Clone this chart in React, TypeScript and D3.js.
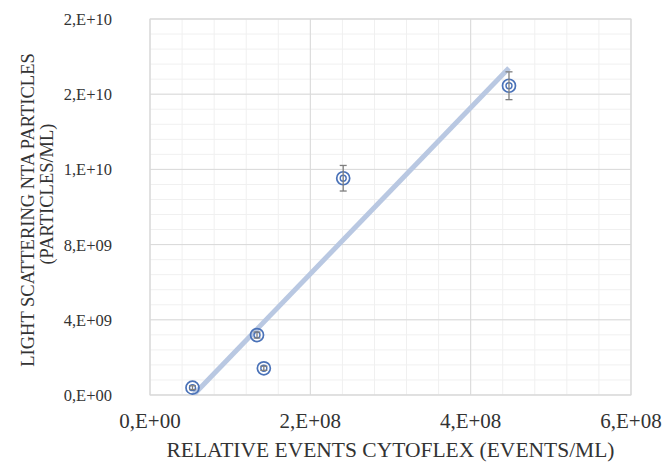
import React from "react";
import * as d3 from "d3";

// relative events (events/mL) vs. NTA particles (particles/mL)
const xValues = [5.3e7, 1.335e8, 1.42e8, 2.41e8, 4.478e8];
const yValues = [3.9e8, 3.19e9, 1.42e9, 1.153e10, 1.645e10];
const yErrors = [1.0e8, 1.6e8, 1.1e8, 6.8e8, 7.4e8];

const xTicks = [0, 2e8, 4e8, 6e8];
const xTickLabels = ["0,E+00", "2,E+08", "4,E+08", "6,E+08"];
const yTicks = [0, 4e9, 8e9, 1.2e10, 1.6e10, 2e10];
const yTickLabels = ["0,E+00", "4,E+09", "8,E+09", "1,E+10", "2,E+10", "2,E+10"];

const W = 665, H = 465;
const margin = { top: 19, right: 34, bottom: 70, left: 150 };
const FONT = "'Liberation Serif', 'Times New Roman', serif";

const App = () => {
  const x = d3.scaleLinear().domain([0, 6e8]).range([margin.left, W - margin.right]);
  const y = d3.scaleLinear().domain([0, 2e10]).range([H - margin.bottom, margin.top]);

  const xMinor = d3.range(0, 6e8 + 1, 4e7);
  const yMinor = d3.range(0, 2e10 + 1, 8e8);

  // least squares trendline
  const mx = d3.mean(xValues)!, my = d3.mean(yValues)!;
  const sxy = d3.sum(xValues, (v, i) => (v - mx) * (yValues[i] - my));
  const sxx = d3.sum(xValues, v => (v - mx) ** 2);
  const slope = sxy / sxx, icpt = my - slope * mx;
  const x0 = d3.min(xValues)!, x1 = d3.max(xValues)!;
  const trend = d3.line<number>().x(v => x(v)).y(v => y(slope * v + icpt))([x0, x1]);

  const [l, r] = x.range();
  const [b, t] = y.range();

  return (
    <svg width={W} height={H} style={{ position: "absolute", left: 0, top: 0, background: "#fff" }}>
      <defs>
        <clipPath id="plotClip">
          <rect x={l} y={t} width={r - l} height={b - t} />
        </clipPath>
      </defs>
      <g stroke="#f0f0f0" strokeWidth={1}>
        {xMinor.map(v => <line key={"xm" + v} x1={x(v)} x2={x(v)} y1={t} y2={b} />)}
        {yMinor.map(v => <line key={"ym" + v} x1={l} x2={r} y1={y(v)} y2={y(v)} />)}
      </g>
      <g stroke="#d9d9d9" strokeWidth={1}>
        {xTicks.map(v => <line key={"xM" + v} x1={x(v)} x2={x(v)} y1={t} y2={b} />)}
        {yTicks.map(v => <line key={"yM" + v} x1={l} x2={r} y1={y(v)} y2={y(v)} />)}
      </g>
      <rect x={l} y={t} width={r - l} height={b - t} fill="none" stroke="#d9d9d9" />

      <path d={trend!} fill="none" stroke="#b9c8e2" strokeWidth={5} clipPath="url(#plotClip)" />

      {xValues.map((xv, i) => {
        const cx = x(xv), cy = y(yValues[i]);
        const ey1 = y(yValues[i] + yErrors[i]), ey0 = y(yValues[i] - yErrors[i]);
        return (
          <g key={i}>
            <circle cx={cx} cy={cy} r={6.5} fill="none" stroke="#4a72b8" strokeWidth={1.7} />
            <circle cx={cx} cy={cy} r={3} fill="none" stroke="#4a72b8" strokeWidth={1.4} />
            <g stroke="#7f7f7f" strokeWidth={1.3}>
              <line x1={cx} x2={cx} y1={ey1} y2={ey0} />
              <line x1={cx - 3.5} x2={cx + 3.5} y1={ey1} y2={ey1} />
              <line x1={cx - 3.5} x2={cx + 3.5} y1={ey0} y2={ey0} />
            </g>
          </g>
        );
      })}

      <g fontFamily={FONT} fill="#333">
        {xTicks.map((v, i) => (
          <text key={"xt" + v} x={x(v)} y={b + 33} fontSize={21} textAnchor="middle">{xTickLabels[i]}</text>
        ))}
        {yTicks.map((v, i) => (
          <text key={"yt" + v} x={l - 38} y={y(v) + 6} fontSize={16.5} textAnchor="end">{yTickLabels[i]}</text>
        ))}
      </g>

      <g fontFamily={FONT} fill="#333">
        <text x={(l + r) / 2} y={H - 8} fontSize={21.5} textAnchor="middle">RELATIVE EVENTS CYTOFLEX (EVENTS/ML)</text>
        <text transform="translate(34,210) rotate(-90)" fontSize={18.5} textAnchor="middle">LIGHT SCATTERING NTA PARTICLES</text>
        <text transform="translate(53,194) rotate(-90)" fontSize={18.5} textAnchor="middle">(PARTICLES/ML)</text>
      </g>
    </svg>
  );
};

export default App;
